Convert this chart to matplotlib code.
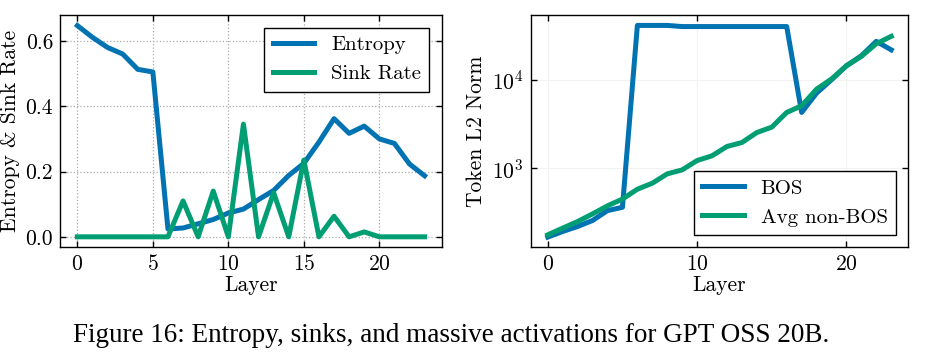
import matplotlib
matplotlib.use("Agg")
import matplotlib.pyplot as plt

layers = list(range(24))
entropy = [0.647, 0.611, 0.580, 0.560, 0.513, 0.505, 0.024, 0.027, 0.040, 0.053,
           0.073, 0.085, 0.114, 0.142, 0.188, 0.225, 0.290, 0.362, 0.317, 0.339,
           0.300, 0.286, 0.223, 0.187]
sink_rate = [0, 0, 0, 0, 0, 0, 0, 0.11, 0, 0.14, 0, 0.345, 0, 0.135, 0, 0.235,
             0, 0.063, 0, 0.015, 0, 0, 0, 0]
bos_norm = [166, 192, 219, 256, 331, 361, 41200, 41200, 41200, 40000, 40000, 40000,
            40000, 40000, 40000, 40000, 40000, 4270, 7060, 10000, 14400, 18700,
            27200, 21800]
avg_norm = [176, 210, 249, 304, 375, 447, 578, 676, 862, 956, 1220, 1380, 1760,
            1950, 2530, 2910, 4270, 5080, 7830, 10200, 14400, 18400, 25600, 31000]

caption = "Figure 16: Entropy, sinks, and massive activations for GPT OSS 20B."

plt.rcParams['font.family'] = 'cmr10'
plt.rcParams['mathtext.fontset'] = 'cm'
plt.rcParams['axes.formatter.use_mathtext'] = True
plt.rcParams['font.size'] = 15

blue = '#0173b2'
green = '#029e73'
lw = 3.6

fig = plt.figure(figsize=(9.26, 3.58), dpi=100)
ax1 = fig.add_axes([0.0648, 0.309, 0.4125, 0.649])
ax2 = fig.add_axes([0.573, 0.309, 0.408, 0.649])

for ax in (ax1, ax2):
    ax.tick_params(direction='in', top=True, right=True, length=4, width=1,
                   labelsize=15.5, pad=5)
    for s in ax.spines.values():
        s.set_linewidth(1.0)

ax1.plot(layers, entropy, color=blue, lw=lw, label='Entropy')
ax1.plot(layers, sink_rate, color=green, lw=lw, label='Sink Rate')
ax1.set_xticks([0, 5, 10, 15, 20])
ax1.set_yticks([0.0, 0.2, 0.4, 0.6])
ax1.set_yticklabels(['0.0', '0.2', '0.4', '0.6'])
ax1.grid(True, linestyle=':', color='#aaaaaa', linewidth=0.9)
ax1.set_xlabel('Layer', fontsize=15.5, labelpad=1)
ax1.set_ylabel('Entropy & Sink Rate', fontsize=15.5, labelpad=4)
leg1 = ax1.legend(loc='upper right', fontsize=15, fancybox=False, framealpha=1,
                  edgecolor='black', borderaxespad=0.6)
leg1.get_frame().set_linewidth(1.0)

ax2.plot(layers, bos_norm, color=blue, lw=lw, label='BOS')
ax2.plot(layers, avg_norm, color=green, lw=lw, label='Avg non-BOS')
ax2.set_yscale('log')
ax2.set_ylim(127, 54000)
ax2.set_xticks([0, 10, 20])
ax2.minorticks_off()
ax2.set_yticks([1e3, 1e4])
ax2.grid(True, linestyle='-', color='#f2f2f2', linewidth=0.8)
ax2.set_xlabel('Layer', fontsize=15.5, labelpad=1)
ax2.set_ylabel('Token L2 Norm', fontsize=15.5, labelpad=4)
leg2 = ax2.legend(loc='lower right', fontsize=15, fancybox=False, framealpha=1,
                  edgecolor='black', borderaxespad=0.6)
leg2.get_frame().set_linewidth(1.0)

fig.text(0.487, 0.063, caption, ha='center', va='center',
         fontsize=19.5, family='Liberation Serif')

fig.savefig('out.png', dpi=100)
